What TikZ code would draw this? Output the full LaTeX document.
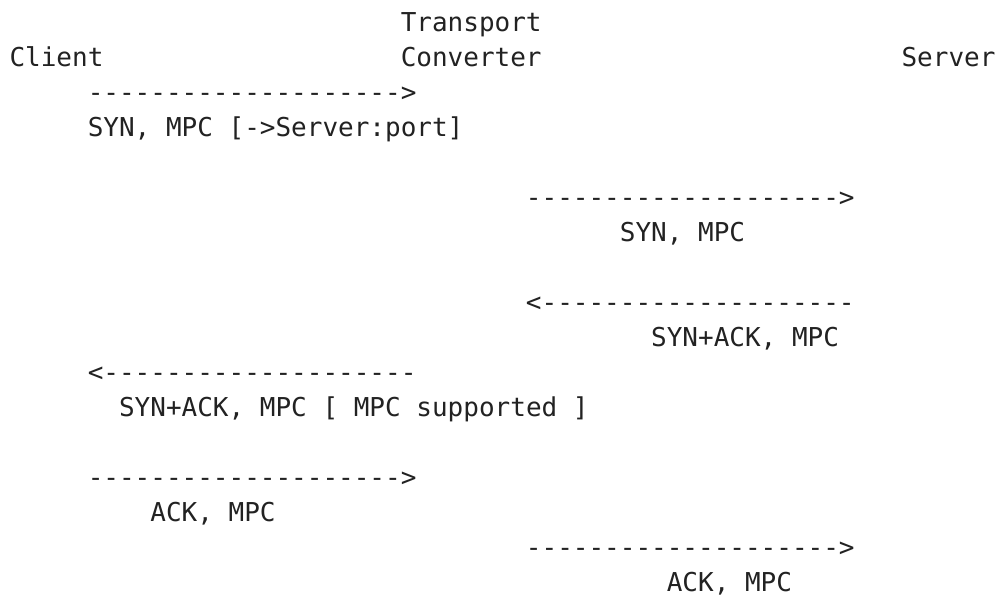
\documentclass[tikz,border=0pt]{standalone}
\usepackage{fontspec}
\setmonofont{DejaVu Sans Mono}[Ligatures=NoCommon]
\definecolor{ink}{HTML}{222222}
\begin{document}
\begin{tikzpicture}[x=1pt,y=-1pt,
  txt/.style={anchor=base west, inner sep=0pt, outer sep=0pt,
    font=\ttfamily\fontsize{26}{35}\selectfont, text=ink}]
\useasboundingbox (0,0) rectangle (995,597);
\fill[white] (0,0) rectangle (995,597);
\def\cw{15.65}
\def\xo{9.5}
\def\yo{31.5}
\def\lp{35}
% col, row
\node[txt] (transport) at ({\xo+25*\cw},{\yo+0*\lp}) {Transport};
\node[txt] (client)    at ({\xo+0*\cw},{\yo+1*\lp}) {Client};
\node[txt] (converter) at ({\xo+25*\cw},{\yo+1*\lp}) {Converter};
\node[txt] (server)    at ({\xo+57*\cw},{\yo+1*\lp}) {Server};
\node[txt] (a1)  at ({\xo+5*\cw},{\yo+2*\lp}) {-------------------->};
\node[txt] (l1)  at ({\xo+5*\cw},{\yo+3*\lp}) {SYN, MPC [->Server:port]};
\node[txt] (a2)  at ({\xo+33*\cw},{\yo+5*\lp}) {-------------------->};
\node[txt] (l2)  at ({\xo+39*\cw},{\yo+6*\lp}) {SYN, MPC};
\node[txt] (a3)  at ({\xo+33*\cw},{\yo+8*\lp}) {<--------------------};
\node[txt] (l3)  at ({\xo+41*\cw},{\yo+9*\lp}) {SYN+ACK, MPC};
\node[txt] (a4)  at ({\xo+5*\cw},{\yo+10*\lp}) {<--------------------};
\node[txt] (l4)  at ({\xo+7*\cw},{\yo+11*\lp}) {SYN+ACK, MPC [ MPC supported ]};
\node[txt] (a5)  at ({\xo+5*\cw},{\yo+13*\lp}) {-------------------->};
\node[txt] (l5)  at ({\xo+9*\cw},{\yo+14*\lp}) {ACK, MPC};
\node[txt] (a6)  at ({\xo+33*\cw},{\yo+15*\lp}) {-------------------->};
\node[txt] (l6)  at ({\xo+42*\cw},{\yo+16*\lp}) {ACK, MPC};
\end{tikzpicture}
\end{document}
